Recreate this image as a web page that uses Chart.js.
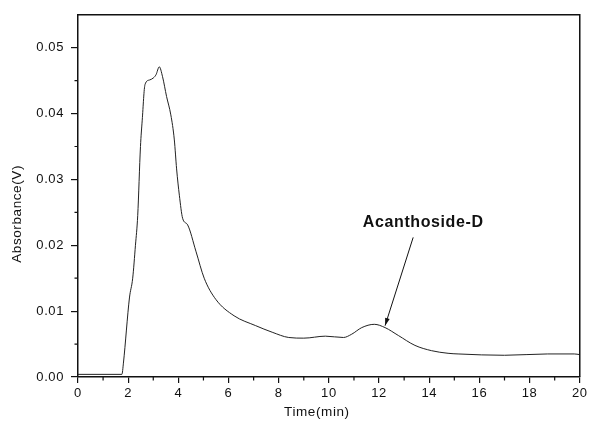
<!DOCTYPE html>
<html><head><meta charset="utf-8">
<script src="https://cdn.jsdelivr.net/npm/chart.js@4/dist/chart.umd.min.js"></script>
<style>html,body{margin:0;padding:0;background:#fff}#wrap{width:590px;height:430px}</style>
</head><body><div id="wrap"><canvas id="c" width="590" height="430"></canvas></div>
<script>
const timeMin = [0, 1.75, 1.81, 2.05, 2.18, 2.29, 2.38, 2.49, 2.56, 2.67, 2.85, 3.0, 3.11, 3.24, 3.37, 3.53, 3.7, 3.84, 3.93, 4.04, 4.17, 4.37, 4.7, 5.03, 5.49, 6.22, 7.08, 7.74, 8.4, 9.0, 9.86, 10.58, 10.91, 11.31, 11.81, 12.24, 12.77, 13.43, 14.09, 14.75, 15.15, 17.0, 18.72, 19.78, 20];
const absorbance = [0.0004, 0.0004, 0.0021, 0.012, 0.015, 0.020, 0.0245, 0.035, 0.039, 0.0444, 0.0451, 0.0454, 0.0459, 0.0471, 0.0456, 0.0426, 0.0398, 0.036, 0.0316, 0.0276, 0.0241, 0.0231, 0.0191, 0.0150, 0.0118, 0.0093, 0.0078, 0.0068, 0.0060, 0.0059, 0.0062, 0.0060, 0.0065, 0.0075, 0.0080, 0.0075, 0.0063, 0.0048, 0.0040, 0.0036, 0.0035, 0.0033, 0.0035, 0.0035, 0.0034];
const xTicks = [0, 2, 4, 6, 8, 10, 12, 14, 16, 18, 20];
const yTicks = [0.00, 0.01, 0.02, 0.03, 0.04, 0.05];
const xMinor = [1, 3, 5, 7, 9, 11, 13, 15, 17, 19];
const yMinor = [0.005, 0.015, 0.025, 0.035, 0.045];
const xTitle = "Time(min)";
const yTitle = "Absorbance(V)";
const annotationLabel = "Acanthoside-D";
const annotationText = [13.76, 0.0235];
const annotationArrow = [[13.36, 0.0212], [12.24, 0.0078]];

const FONT = "'Liberation Sans', Arial, sans-serif";

const extras = {
  id: 'extras',
  beforeDraw(chart) { chart.ctx.letterSpacing = '0.6px'; },
  afterDraw(chart) {
    const ctx = chart.ctx, a = chart.chartArea, xs = chart.scales.x, ys = chart.scales.y;
    ctx.save();
    ctx.strokeStyle = '#111';
    ctx.fillStyle = '#111';
    ctx.lineWidth = 1.5;
    // frame top and right
    ctx.beginPath();
    ctx.moveTo(a.left, a.top); ctx.lineTo(a.right, a.top); ctx.lineTo(a.right, a.bottom);
    ctx.stroke();
    // minor ticks
    ctx.lineWidth = 1.2;
    ctx.beginPath();
    xMinor.forEach(v => { const p = xs.getPixelForValue(v); ctx.moveTo(p, a.bottom); ctx.lineTo(p, a.bottom + 3.5); });
    yMinor.forEach(v => { const p = ys.getPixelForValue(v); ctx.moveTo(a.left, p); ctx.lineTo(a.left - 3.5, p); });
    ctx.stroke();
    // axis titles
    ctx.font = '13.5px ' + FONT;
    ctx.textAlign = 'center'; ctx.textBaseline = 'middle';
    ctx.fillText(xTitle, (a.left + a.right) / 2 - 12, a.bottom + 35);
    ctx.save();
    ctx.translate(17, (a.top + a.bottom) / 2 + 18);
    ctx.rotate(-Math.PI / 2);
    ctx.fillText(yTitle, 0, 0);
    ctx.restore();
    // annotation
    ctx.font = 'bold 16px ' + FONT;
    ctx.fillText(annotationLabel, xs.getPixelForValue(annotationText[0]), ys.getPixelForValue(annotationText[1]));
    const x1 = xs.getPixelForValue(annotationArrow[0][0]), y1 = ys.getPixelForValue(annotationArrow[0][1]);
    const x2 = xs.getPixelForValue(annotationArrow[1][0]), y2 = ys.getPixelForValue(annotationArrow[1][1]);
    ctx.lineWidth = 1;
    ctx.beginPath(); ctx.moveTo(x1, y1); ctx.lineTo(x2, y2); ctx.stroke();
    const ang = Math.atan2(y2 - y1, x2 - x1), L = 8, W = 0.3;
    ctx.beginPath();
    ctx.moveTo(x2, y2);
    ctx.lineTo(x2 - L * Math.cos(ang - W), y2 - L * Math.sin(ang - W));
    ctx.lineTo(x2 - L * Math.cos(ang + W), y2 - L * Math.sin(ang + W));
    ctx.closePath(); ctx.fill();
    ctx.restore();
  }
};

new Chart(document.getElementById('c'), {
  type: 'scatter',
  data: {
    datasets: [{
      data: timeMin.map((t, i) => ({ x: t, y: absorbance[i] })),
      showLine: true, borderColor: '#222', borderWidth: 1, pointRadius: 0,
      cubicInterpolationMode: 'monotone', fill: false
    }]
  },
  options: {
    responsive: false, animation: false,
    layout: { padding: { left: 0, right: 8, top: 11, bottom: 0 } },
    plugins: { legend: { display: false }, tooltip: { enabled: false } },
    scales: {
      x: {
        type: 'linear', min: 0, max: 20,
        afterFit(s) { s.height = 53; },
        afterBuildTicks(s) { s.ticks = xTicks.map(v => ({ value: v })); },
        border: { color: '#111', width: 1.5 },
        grid: { drawOnChartArea: false, color: '#111', lineWidth: 1.2, tickLength: 6 },
        ticks: { color: '#111', font: { family: FONT, size: 13 }, padding: 3, maxRotation: 0, callback: v => String(v) },
        title: { display: false }
      },
      y: {
        min: 0, max: 0.055,
        afterFit(s) { s.width = 78; },
        afterBuildTicks(s) { s.ticks = yTicks.map(v => ({ value: v })); },
        border: { color: '#111', width: 1.5 },
        grid: { drawOnChartArea: false, color: '#111', lineWidth: 1.2, tickLength: 7 },
        ticks: { color: '#111', font: { family: FONT, size: 13 }, padding: 7, callback: v => v.toFixed(2) },
        title: { display: false }
      }
    }
  },
  plugins: [extras]
});
</script></body></html>
